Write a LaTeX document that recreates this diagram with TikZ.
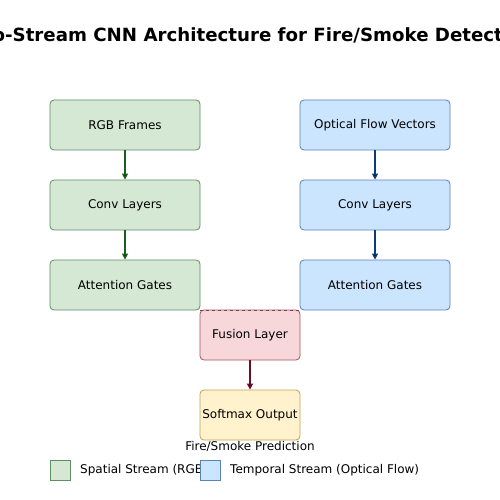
\documentclass[tikz,border=0pt]{standalone}
\usepackage{fontspec}
\setmainfont{DejaVu Sans}
\usetikzlibrary{positioning,arrows.meta}

\definecolor{spfill}{HTML}{D5E8D4}
\definecolor{spline}{HTML}{5E8E62}
\definecolor{sparrow}{HTML}{1B5E20}
\definecolor{tpfill}{HTML}{CCE5FF}
\definecolor{tpline}{HTML}{5A82B6}
\definecolor{tparrow}{HTML}{0D3B7A}
\definecolor{fufill}{HTML}{F8D7DA}
\definecolor{fuline}{HTML}{9E5662}
\definecolor{fuarrow}{HTML}{6B1020}
\definecolor{smfill}{HTML}{FFF2CC}
\definecolor{smline}{HTML}{BFA252}

\tikzset{
    block/.style={draw, rounded corners=4pt, line width=0.8pt, minimum width=150pt, minimum height=50pt, font=\fontsize{12}{14}\selectfont, inner sep=1pt},
    spatial/.style={block, fill=spfill, draw=spline},
    temporal/.style={block, fill=tpfill, draw=tpline},
    small/.style={block, minimum width=100pt},
    legbox/.style={draw, line width=0.8pt, minimum width=20pt, minimum height=20pt, inner sep=0pt},
    legtext/.style={anchor=west, font=\fontsize{12}{14}\selectfont, inner sep=0pt},
    flow/.style={-{Triangle[length=6pt,width=6pt]}, line width=1.4pt},
}

\begin{document}
\begin{tikzpicture}[node distance=29.2pt]

    \useasboundingbox (0,0) rectangle (500pt,-500pt);

    \node (title) at (250pt,-35pt) {\fontsize{18.2}{21}\selectfont\bfseries Two-Stream CNN Architecture for Fire/Smoke Detection};

    % spatial stream
    \node[spatial] (RGB) at (125pt,-125pt) {RGB Frames};
    \node[spatial] (CS) [below=of RGB] {Conv Layers};
    \node[spatial] (AS) [below=of CS] {Attention Gates};

    % temporal stream
    \node[temporal] (OF) at (375pt,-125pt) {Optical Flow Vectors};
    \node[temporal] (CT) [below=of OF] {Conv Layers};
    \node[temporal] (AT) [below=of CT] {Attention Gates};

    \node[small, fill=fufill, draw=fuline] (FU) at (250pt,-335pt) {Fusion Layer};
    \node[small, fill=smfill, draw=smline] (SM) [below=of FU] {Softmax Output};
    \node (pred) at (250pt,-446pt) {\fontsize{12}{14}\selectfont Fire/Smoke Prediction};

    \path[flow, draw=sparrow] (RGB) edge (CS);
    \path[flow, draw=sparrow] (CS) edge (AS);
    \path[flow, draw=tparrow] (OF) edge (CT);
    \path[flow, draw=tparrow] (CT) edge (AT);
    \path[flow, draw=fuarrow] (FU) edge (SM);
    \draw[dashed, fuline!80!black, line width=0.8pt] (AS.south east) -- (AT.south west);

    % legend
    \node[legbox, fill=spfill, draw=spline] (LS) at (60pt,-470pt) {};
    \node[legtext] (LSt) at (80pt,-470pt) {Spatial Stream (RGB)};
    \node[legbox, fill=tpfill, draw=tpline] (LT) at (210pt,-470pt) {};
    \node[legtext] (LTt) at (230pt,-470pt) {Temporal Stream (Optical Flow)};

\end{tikzpicture}
\end{document}
